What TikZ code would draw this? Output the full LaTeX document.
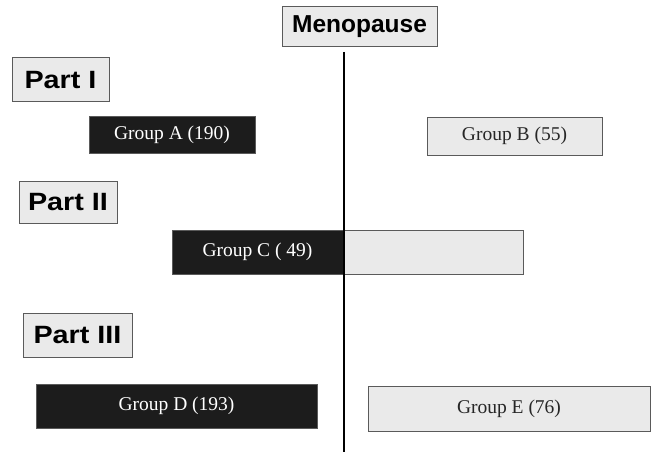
\documentclass[tikz,border=0pt]{standalone}
\usepackage{fontspec}
\setmainfont{Liberation Serif}
\newfontfamily\headfont{Liberation Sans}
\newfontfamily\partfont[FakeStretch=1.15]{Liberation Sans}
\definecolor{darkfill}{HTML}{1C1C1C}
\definecolor{lightfill}{HTML}{EAEAEA}
\definecolor{edge}{HTML}{5A5A5A}
\tikzset{
  headbox/.style={draw=edge, line width=1pt, fill=lightfill, inner sep=0pt, text=black},
  menofont/.style={font=\headfont\bfseries\fontsize{24.5}{27}\selectfont},
  partstyle/.style={font=\partfont\bfseries\fontsize{25}{28}\selectfont},
  darkbox/.style={draw=edge, line width=0.8pt, fill=darkfill, inner sep=0pt, text=white, font=\fontsize{19.5}{22}\selectfont},
  lightbox/.style={draw=edge, line width=0.8pt, fill=lightfill, inner sep=0pt, text=black!85, font=\fontsize{19.5}{22}\selectfont},
  axis/.style={draw=black, line width=1.5pt}
}
\begin{document}
\begin{tikzpicture}[x=1pt,y=-1pt]
\useasboundingbox (0,0) rectangle (654,452);
% heading boxes
\node[headbox, menofont, minimum width=155pt, minimum height=40pt] (meno) at (359.5,27) {Menopause};
\node[headbox, partstyle, minimum width=97pt, minimum height=44pt] (p1) at (60.5,80) {Part I};
\node[headbox, partstyle, minimum width=98pt, minimum height=42pt] (p2) at (68,202) {Part II};
\node[headbox, partstyle, minimum width=109pt, minimum height=44pt] (p3) at (77.5,335) {Part III};
% group boxes
\node[darkbox, minimum width=166pt, minimum height=37pt] (ga) at (172,134.5) {Group A (190)};
\node[lightbox, minimum width=175pt, minimum height=38pt] (gb) at (514.5,136) {Group B (55)};
\node[darkbox, minimum width=171pt, minimum height=44pt] (gc) at (257.5,252) {Group C ( 49)};
\node[lightbox, minimum width=180pt, minimum height=44pt] (gc2) at (433,252) {};
\node[darkbox, minimum width=281pt, minimum height=44pt] (gd) at (176.5,406) {Group D (193)};
\node[lightbox, minimum width=282pt, minimum height=45pt] (ge) at (509,408.5) {Group E (76)};
% axis
\coordinate (axtop) at (344,52);
\coordinate (axbot) at (344,452);
\draw[axis] (axtop) -- (axbot);
\end{tikzpicture}
\end{document}
